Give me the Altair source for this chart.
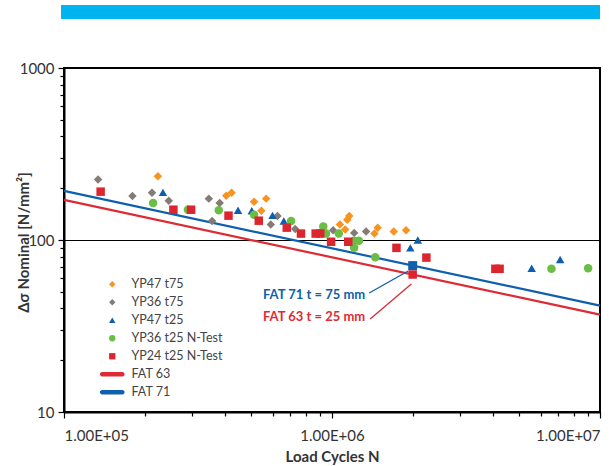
import altair as alt
import pandas as pd

# ---------------- data ----------------
series_names = ["YP47 t75", "YP36 t75", "YP47 t25", "YP36 t25 N-Test",
                "YP24 t25 N-Test", "FAT 63", "FAT 71"]
series_colors = ["#F7931E", "#857B76", "#0D5EAF", "#6ABD45", "#DD2530",
                 "#DE2A35", "#0E5FAE"]

yp47_t75_N = [2.24e5, 4.03e5, 4.22e5, 5.12e5, 5.68e5, 5.45e5, 1.07e6, 1.12e6,
              1.14e6, 1.16e6, 1.44e6, 1.48e6, 1.70e6, 1.89e6]
yp47_t75_S = [235, 181, 188, 167, 174, 148, 123, 115, 131, 138, 109, 118, 112, 114]

yp36_t75_N = [1.34e5, 1.80e5, 2.13e5, 2.46e5, 3.47e5, 3.81e5, 3.57e5, 5.91e5,
              6.26e5, 7.29e5, 1.01e6, 1.21e6, 1.34e6]
yp36_t75_S = [225, 180, 188, 169, 174, 164, 129, 123, 138, 116, 114, 110, 112]

yp47_t25_N = [2.34e5, 4.46e5, 5.02e5, 6.00e5, 6.61e5, 9.17e5, 2.09e6, 1.96e6,
              5.56e6, 7.10e6]
yp47_t25_S = [189, 149, 148, 139, 129, 116, 100, 90, 68.5, 77]

yp36_t25_N = [2.15e5, 2.90e5, 3.78e5, 5.12e5, 7.04e5, 9.28e5, 9.50e5, 1.06e6,
              1.21e6, 1.26e6, 1.21e6, 1.45e6, 6.59e6, 9.03e6]
yp36_t25_S = [164, 150, 149, 140, 129, 120, 109, 109, 99, 99, 90, 79.4, 68, 68.5]

yp24_t25_N = [1.37e5, 2.56e5, 2.98e5, 4.11e5, 5.33e5, 6.78e5, 7.66e5, 8.69e5,
              9.04e5, 9.92e5, 1.15e6, 1.74e6, 2.25e6, 2.0e6, 4.07e6, 4.22e6]
yp24_t25_S = [191, 150, 150, 138.5, 129.5, 118, 109, 109, 109, 97.7, 97.7, 90,
              79, 63, 68, 68]

fat_N = [1e5, 1e7]
fat63_S = [171, 36.8]
fat71_S = [193, 41.5]

fat71_point_N = [2.0e6]
fat71_point_S = [71]

annot_text = ["FAT 71 t = 75 mm", "FAT 63 t = 25 mm"]
annot_color = ["#0E5FAE", "#DE2A35"]
annot_N = [1.33e6, 1.33e6]
annot_S = [47.9, 35.7]
leader_N1 = [1.376e6, 1.388e6]
leader_S1 = [49.2, 34.7]
leader_N2 = [1.925e6, 1.977e6]
leader_S2 = [66.0, 55.5]

x_tick_values = [1e5, 2e5, 3e5, 4e5, 5e5, 6e5, 7e5, 8e5, 9e5,
                 1e6, 2e6, 3e6, 4e6, 5e6, 6e6, 7e6, 8e6, 9e6, 1e7]
x_major = [100000, 1000000, 10000000]
x_major_labels = ["1.00E+05", "1.00E+06", "1.00E+07"]
y_tick_values = [10, 20, 30, 40, 50, 60, 70, 80, 90,
                 100, 200, 300, 400, 500, 600, 700, 800, 900, 1000]
y_major = [10, 100, 1000]

# ---------------- tables ----------------
rows = []
for name, Ns, Ss in [(series_names[0], yp47_t75_N, yp47_t75_S),
                     (series_names[1], yp36_t75_N, yp36_t75_S),
                     (series_names[2], yp47_t25_N, yp47_t25_S),
                     (series_names[3], yp36_t25_N, yp36_t25_S),
                     (series_names[4], yp24_t25_N, yp24_t25_S)]:
    for n, s in zip(Ns, Ss):
        rows.append({"series": name, "N": n, "S": s})
df_pts = pd.DataFrame(rows)

df_fat63 = pd.DataFrame({"N": fat_N, "S": fat63_S})
df_fat71 = pd.DataFrame({"N": fat_N, "S": fat71_S})
df_sq = pd.DataFrame({"N": fat71_point_N, "S": fat71_point_S})
df_annot = pd.DataFrame({"N": annot_N, "S": annot_S, "t": annot_text, "c": annot_color})
df_lead = pd.DataFrame({"N1": leader_N1, "S1": leader_S1, "N2": leader_N2,
                        "S2": leader_S2, "c": annot_color})
df_bar = pd.DataFrame({"a": [0]})

# ---------------- scales / axes ----------------
FONT = "Lato"
xscale = alt.Scale(type="log", domain=[1e5, 1e7], nice=False)
yscale = alt.Scale(type="log", domain=[10, 1000], nice=False)

x_major_test = " || ".join(f"datum.value == {v}" for v in x_major)
x_label_expr = " : ".join(f"datum.value == {v} ? '{l}'" for v, l in zip(x_major, x_major_labels)) + " : ''"
y_major_test = " || ".join(f"datum.value == {v}" for v in y_major)

xaxis = alt.Axis(
    values=x_tick_values, labelExpr=x_label_expr, labelFlush=True,
    labelOverlap=False, grid=False,
    tickSize={"condition": {"test": x_major_test, "value": 6}, "value": 4},
    tickColor="black", tickWidth=1.2, domainColor="black", domainWidth=2,
    labelFont=FONT, labelFontSize=15, labelColor="#333333", labelPadding=10,
    titleFont=FONT, titleFontSize=15, titleFontWeight="bold",
    titleColor="#333333", titlePadding=6,
)
yaxis = alt.Axis(
    values=y_tick_values,
    labelExpr=f"({y_major_test}) ? format(datum.value, 'd') : ''",
    labelFlush=False, labelOverlap=False,
    grid=True, gridColor="black", gridWidth=1,
    gridOpacity={"condition": {"test": "datum.value == 100", "value": 1}, "value": 0},
    tickSize={"condition": {"test": y_major_test, "value": 6}, "value": 4},
    tickColor="black", tickWidth=1.2, domainColor="black", domainWidth=2,
    labelFont=FONT, labelFontSize=15, labelColor="#333333", labelPadding=4,
    titleFont=FONT, titleFontSize=15, titleFontWeight="bold",
    titleColor="#333333", titleX=-41, titleY=174, titleBaseline="middle",
)

line_path = ("M-3.2,-0.7 L3.2,-0.7 A0.7,0.7 0 0 1 3.2,0.7 "
             "L-3.2,0.7 A0.7,0.7 0 0 1 -3.2,-0.7 Z")
shapes = ["diamond", "diamond", "triangle-up", "circle", "square", line_path, line_path]

legend = alt.Legend(
    title=None, orient="none", legendX=42, legendY=210, padding=0,
    symbolSize=40, symbolStrokeWidth=0, labelFont=FONT, labelFontSize=12.5,
    labelColor="#444444", labelOffset=13, rowPadding=5,
)

# ---------------- layers ----------------
bar = alt.Chart(df_bar).mark_rect(color="#00B5EF").encode(
    x=alt.value(-3), x2=alt.value(536), y=alt.value(-63), y2=alt.value(-49)
)

line63 = alt.Chart(df_fat63).mark_line(color="#DE2A35", strokeWidth=2.2).encode(
    x=alt.X("N:Q", scale=xscale, axis=xaxis, title="Load Cycles N"),
    y=alt.Y("S:Q", scale=yscale, axis=yaxis, title="Δσ Nominal [N/mm²]"),
)
line71 = alt.Chart(df_fat71).mark_line(color="#0E5FAE", strokeWidth=2.2).encode(
    x="N:Q", y="S:Q"
)

points = alt.Chart(df_pts).mark_point(filled=True, size=72, opacity=1).encode(
    x="N:Q", y="S:Q",
    color=alt.Color("series:N", scale=alt.Scale(domain=series_names, range=series_colors),
                    legend=legend),
    shape=alt.Shape("series:N", scale=alt.Scale(domain=series_names, range=shapes),
                    legend=legend),
)

square = alt.Chart(df_sq).mark_square(color="#0E5FAE", size=80, opacity=1).encode(
    x="N:Q", y="S:Q"
)

leaders = alt.Chart(df_lead).mark_rule(strokeWidth=1.3).encode(
    x="N1:Q", x2="N2:Q", y="S1:Q", y2="S2:Q",
    color=alt.Color("c:N", scale=None),
)

labels = alt.Chart(df_annot).mark_text(
    align="right", baseline="middle", font=FONT, fontSize=13, fontWeight="bold"
).encode(
    x="N:Q", y="S:Q", text="t:N", color=alt.Color("c:N", scale=None)
)

chart = alt.layer(line63, line71, points, square, leaders, labels, bar).properties(
    width=536, height=344,
    autosize=alt.AutoSizeParams(type="none"),
    padding={"left": 64, "top": 68, "right": 9, "bottom": 54},
    background="white",
).configure_view(stroke="black", strokeWidth=2)

chart.save("out.html", embed_options={"renderer": "svg", "actions": False})
